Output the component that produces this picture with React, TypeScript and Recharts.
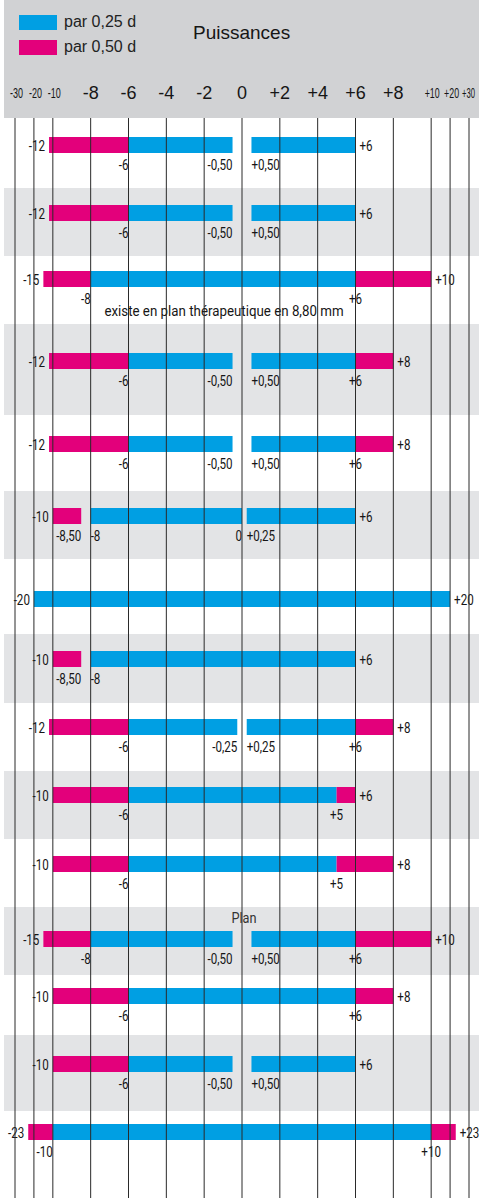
import React from 'react';
import { BarChart, Bar, XAxis, YAxis, CartesianGrid, ReferenceDot, ComposedChart } from 'recharts';

const BLUE = '#009fe3';
const MAGENTA = '#e3007b';
const HEADER_GRAY = '#d1d2d4';
const BAND_GRAY = '#e3e4e6';
const INK = '#161616';
const NARROW = "Roboto, 'Liberation Sans Narrow', 'DejaVu Sans Condensed', sans-serif";
const SANS = "'Liberation Sans', Arial, sans-serif";
const SQUEEZE = 0.8;

// axis ticks, dioptres
const TICKS = [-30, -20, -10, -8, -6, -4, -2, 0, 2, 4, 6, 8, 10, 20, 30];
const TICK_LABELS = ['-30', '-20', '-10', '-8', '-6', '-4', '-2', '0', '+2', '+4', '+6', '+8', '+10', '+20', '+30'];

// legend: step of the range
const STEPS = [0.25, 0.5];
const STEP_LABELS = ['par 0,25 d', 'par 0,50 d'];

// one list per lens: [from, to, step]
const LENS_1 = [[-12, -6, 0.5], [-6, -0.5, 0.25], [0.5, 6, 0.25]];
const LENS_2 = [[-12, -6, 0.5], [-6, -0.5, 0.25], [0.5, 6, 0.25]];
const LENS_3 = [[-15, -8, 0.5], [-8, 6, 0.25], [6, 10, 0.5]];
const LENS_4 = [[-12, -6, 0.5], [-6, -0.5, 0.25], [0.5, 6, 0.25], [6, 8, 0.5]];
const LENS_5 = [[-12, -6, 0.5], [-6, -0.5, 0.25], [0.5, 6, 0.25], [6, 8, 0.5]];
const LENS_6 = [[-10, -8.5, 0.5], [-8, 0, 0.25], [0.25, 6, 0.25]];
const LENS_7 = [[-20, 20, 0.25]];
const LENS_8 = [[-10, -8.5, 0.5], [-8, 6, 0.25]];
const LENS_9 = [[-12, -6, 0.5], [-6, -0.25, 0.25], [0.25, 6, 0.25], [6, 8, 0.5]];
const LENS_10 = [[-10, -6, 0.5], [-6, 5, 0.25], [5, 6, 0.5]];
const LENS_11 = [[-10, -6, 0.5], [-6, 5, 0.25], [5, 8, 0.5]];
const LENS_12 = [[-15, -8, 0.5], [-8, -0.5, 0.25], [0.5, 6, 0.25], [6, 10, 0.5]];
const LENS_13 = [[-10, -6, 0.5], [-6, 6, 0.25], [6, 8, 0.5]];
const LENS_14 = [[-10, -6, 0.5], [-6, -0.5, 0.25], [0.5, 6, 0.25]];
const LENS_15 = [[-23, -10, 0.5], [-10, 10, 0.25], [10, 23, 0.5]];

// values printed under each bar
const MARKS = [
  [-6, -0.5, 0.5],
  [-6, -0.5, 0.5],
  [-8, 6],
  [-6, -0.5, 0.5, 6],
  [-6, -0.5, 0.5, 6],
  [-8.5, -8, 0, 0.25],
  [],
  [-8.5, -8],
  [-6, -0.25, 0.25, 6],
  [-6, 5],
  [-6, 5],
  [-8, -0.5, 0.5, 6],
  [-6, 6],
  [-6, -0.5, 0.5],
  [-10, 10],
];

const LENSES = [LENS_1, LENS_2, LENS_3, LENS_4, LENS_5, LENS_6, LENS_7, LENS_8, LENS_9, LENS_10, LENS_11, LENS_12, LENS_13, LENS_14, LENS_15];

const NOTE_ROWS = [2, 11];
const NOTE_TEXTS = ['existe en plan thérapeutique en 8,80 mm', 'Plan'];

// layout
const HEADER_H = 118;
const ROW_HEIGHTS = [70, 68, 68, 91, 76, 68, 75, 69, 68, 68, 68, 68, 60, 76, 87];
const BAR_CENTERS = [27, 25, 23, 37, 29, 25, 40, 25, 24, 24, 25, 32, 21, 29, 21];
const NOTE_DX = [-18, 2];
const NOTE_DY = [37, -16];
const NOTE_SIZE = [15.5, 15];
const NOTE_SQUEEZE = [0.86, 0.85];
const MARGIN = { left: 15, right: 10 };

// axis is linear between -10 and +10, compressed x10 beyond
const squash = (v: number) => (Math.abs(v) <= 10 ? v : Math.sign(v) * (10 + (Math.abs(v) - 10) / 10));

const fmt = (v: number) => {
  const a = Math.abs(v);
  const s = Number.isInteger(a) ? String(a) : a.toFixed(2).replace('.', ',');
  if (v < 0) return '-' + s;
  if (v > 0) return '+' + s;
  return s;
};

const anchorFor = (segs: number[][], v: number) => {
  const ends = segs.some((s) => s[1] === v);
  const starts = segs.some((s) => s[0] === v);
  if (ends && starts) return v < 0 ? 'end' : 'middle';
  return ends ? 'end' : 'start';
};

// condensed text: regular font squeezed horizontally around its anchor
const textLabel = (text: string, dx: number, dy: number, anchor: string, size = 14.5, fill = INK, squeeze = SQUEEZE) => (props: any) => {
  const vb = props.viewBox || {};
  const cx = (vb.x || 0) + (vb.width || 0) / 2;
  const cy = (vb.y || 0) + (vb.height || 0) / 2;
  return (
    <text
      transform={`translate(${cx + dx},${cy + dy}) scale(${squeeze},1)`}
      textAnchor={anchor}
      fontFamily={NARROW}
      fontSize={size}
      fill={fill}
    >
      {text}
    </text>
  );
};

function HeaderTick(props: any) {
  const { x, y, payload } = props;
  const i = TICKS.findIndex((t) => Math.abs(squash(t) - payload.value) < 1e-6);
  if (i < 0) return null;
  const raw = TICKS[i];
  if (Math.abs(raw) >= 10) {
    const len = raw < 0 ? 13 : raw === 30 ? 13 : 15;
    const shift = raw === 30 ? -0.5 : raw === 10 ? 1 : 1.5;
    return (
      <text x={x + shift} y={y - 20.5} textAnchor="middle" fontFamily={SANS} fontSize={14} fill={INK}
        textLength={len} lengthAdjust="spacingAndGlyphs">
        {TICK_LABELS[i]}
      </text>
    );
  }
  return (
    <text x={x} y={y - 19.5} textAnchor="middle" fontFamily={SANS} fontSize={18} fill={INK}>
      {TICK_LABELS[i]}
    </text>
  );
}

function LensRow({ index, top }: { index: number; top: number }) {
  const segs = LENSES[index];
  const h = ROW_HEIGHTS[index];
  const c = BAR_CENTERS[index];
  const datum: any = { name: 'lens' };
  segs.forEach((s, i) => {
    datum['s' + i] = [squash(s[0]), squash(s[1])];
  });
  const lo = segs[0][0];
  const hi = segs[segs.length - 1][1];
  const note = NOTE_ROWS.indexOf(index);

  return (
    <div style={{ position: 'absolute', left: 0, top, width: 479, height: h }}>
      {index % 2 === 1 && (
        <div style={{ position: 'absolute', left: 4, top: 0, right: 0, bottom: 0, background: BAND_GRAY }} />
      )}
      <BarChart
        width={479}
        height={h}
        data={[datum]}
        layout="vertical"
        barCategoryGap={0}
        margin={{ top: c - 10, bottom: h - c - 10, left: MARGIN.left, right: MARGIN.right }}
        style={{ position: 'absolute', left: 0, top: 0 }}
      >
        <XAxis type="number" domain={[-12, 12]} hide allowDataOverflow />
        {segs.map((s, i) => (
          <YAxis key={'y' + i} yAxisId={i} type="category" dataKey="name" hide />
        ))}
        {segs.map((s, i) => (
          <Bar key={'b' + i} yAxisId={i} dataKey={'s' + i} barSize={16} fill={s[2] === STEPS[0] ? BLUE : MAGENTA} isAnimationActive={false} />
        ))}
        <ReferenceDot yAxisId={0} x={squash(lo)} y="lens" r={0} fill="none" stroke="none" label={textLabel(fmt(lo), -4, 5.5, 'end')} />
        <ReferenceDot yAxisId={0} x={squash(hi)} y="lens" r={0} fill="none" stroke="none" label={textLabel(fmt(hi), 4, 5.5, 'start')} />
        {MARKS[index].map((v) => (
          <ReferenceDot key={'m' + v} yAxisId={0} x={squash(v)} y="lens" r={0} fill="none" stroke="none"
            label={textLabel(fmt(v), 0, 25, anchorFor(segs, v))} />
        ))}
        {note >= 0 && (
          <ReferenceDot yAxisId={0} x={0} y="lens" r={0} fill="none" stroke="none"
            label={textLabel(NOTE_TEXTS[note], NOTE_DX[note], NOTE_DY[note], 'middle', NOTE_SIZE[note], note === 0 ? INK : '#333', NOTE_SQUEEZE[note])} />
        )}
      </BarChart>
    </div>
  );
}

export default function App() {
  const tops: number[] = [];
  let acc = HEADER_H;
  ROW_HEIGHTS.forEach((rh) => {
    tops.push(acc);
    acc += rh;
  });

  return (
    <div style={{ position: 'absolute', left: 0, top: 0, width: 479, height: 1198, background: '#fff', overflow: 'hidden' }}>
      <div style={{ position: 'absolute', left: 4, top: 0, width: 475, height: HEADER_H, background: HEADER_GRAY }} />

      {LENSES.map((_, i) => (
        <LensRow key={i} index={i} top={tops[i]} />
      ))}

      {/* vertical grid + power scale on top of everything */}
      <ComposedChart
        width={479}
        height={1198}
        layout="vertical"
        data={[{ name: 'grid' }]}
        margin={{ top: HEADER_H - 30, bottom: 0, left: MARGIN.left, right: MARGIN.right }}
        style={{ position: 'absolute', left: 0, top: 0, pointerEvents: 'none' }}
      >
        <XAxis
          type="number"
          orientation="top"
          domain={[-12, 12]}
          ticks={TICKS.map(squash)}
          interval={0}
          height={30}
          axisLine={false}
          tickLine={false}
          tickSize={0}
          tickMargin={0}
          tick={<HeaderTick />}
          allowDataOverflow
        />
        <YAxis hide type="category" dataKey="name" />
        <CartesianGrid vertical horizontal={false} stroke="#2a2a2a" strokeWidth={1} />
      </ComposedChart>

      <svg width={479} height={70} style={{ position: 'absolute', left: 0, top: 0 }}>
        {STEPS.map((s, i) => (
          <g key={s}>
            <rect x={19} y={15 + i * 25} width={38} height={15} fill={i === 0 ? BLUE : MAGENTA} />
            <text x={64} y={27 + i * 25} fontFamily={SANS} fontSize={16} fill="#222">
              {STEP_LABELS[i]}
            </text>
          </g>
        ))}
        <text x={193} y={39} fontFamily={SANS} fontSize={19} fill={INK}>
          Puissances
        </text>
      </svg>
    </div>
  );
}
